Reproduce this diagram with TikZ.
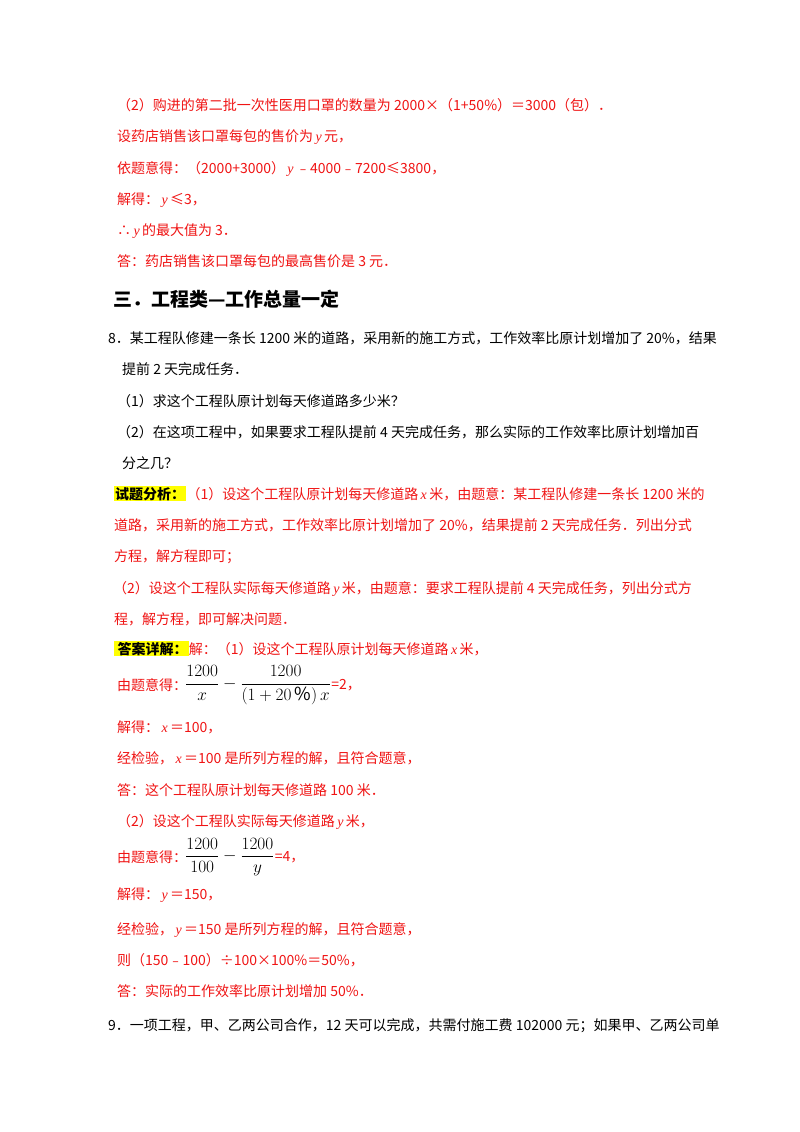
\documentclass[tikz,border=0pt]{standalone}
\usepackage{fontspec}
\setmainfont{Noto Sans CJK SC}
\newfontfamily\lat{Liberation Serif}
\newcommand\vv[1]{\,{\lat\itshape #1}\,}
\definecolor{rd}{RGB}{240,20,20}
\definecolor{hl}{RGB}{255,255,0}
\begin{document}
\begin{tikzpicture}[x=1pt,y=-1pt,
  ln/.style={anchor=base west,inner sep=0pt,font=\fontsize{14}{16}\selectfont},
  red/.style={ln,text=rd},
  frac/.style={anchor=west,inner sep=0pt,font=\fontsize{18}{20}\selectfont},
  tag/.style={anchor=base west,inner sep=1pt,fill=hl,font=\fontsize{14}{16}\selectfont\bfseries}]
\useasboundingbox (0,0) rectangle (800,1132);
\fill[white] (0,0) rectangle (800,1132);
\node[red] (a1) at (117,110) {（2）购进的第二批一次性医用口罩的数量为 2000×（1+50\%）＝3000（包）．};
\node[red] (a2) at (117,141) {设药店销售该口罩每包的售价为\vv{y}元，};
\node[red] (a3) at (117,173) {依题意得：（2000+3000）\vv{y}﹣4000﹣7200≤3800，};
\node[red] (a4) at (117,204) {解得：\vv{y}≤3，};
\node[red] (a5) at (117,235) {∴\vv{y}的最大值为 3．};
\node[red] (a6) at (117,266) {答：药店销售该口罩每包的最高售价是 3 元．};
\node[ln,font=\fontsize{19}{22}\selectfont\bfseries] (h) at (113,306) {三．工程类—工作总量一定};
\node[ln] (b1) at (108,343) {8．某工程队修建一条长 1200 米的道路，采用新的施工方式，工作效率比原计划增加了 20\%，结果};
\node[ln] (b2) at (122,374) {提前 2 天完成任务．};
\node[ln] (b3) at (117,406) {（1）求这个工程队原计划每天修道路多少米？};
\node[ln] (b4) at (117,437) {（2）在这项工程中，如果要求工程队提前 4 天完成任务，那么实际的工作效率比原计划增加百};
\node[ln] (b5) at (122,468) {分之几？};
\node[tag] (t1) at (114,499) {试题分析：};
\node[red,anchor=base west] (c1) at (t1.base east) {（1）设这个工程队原计划每天修道路\vv{x}米，由题意：某工程队修建一条长 1200 米的};
\node[red] (c2) at (114,530) {道路，采用新的施工方式，工作效率比原计划增加了 20\%，结果提前 2 天完成任务．列出分式};
\node[red] (c3) at (114,561) {方程，解方程即可；};
\node[red] (c4) at (113,593) {（2）设这个工程队实际每天修道路\vv{y}米，由题意：要求工程队提前 4 天完成任务，列出分式方};
\node[red] (c5) at (114,624) {程，解方程，即可解决问题．};
\node[tag] (t2) at (114,654) {\,答案详解：};
\node[red,anchor=base west] (d1) at (t2.base east) {解：（1）设这个工程队原计划每天修道路\vv{x}米，};
\node[red] (d2) at (117,690) {由题意得：};
\node[frac] (f1) at (185,685) {$\displaystyle\frac{1200}{x}-\frac{1200}{\left(1+20\,\%\right)x}$};
\node[red,anchor=west] (f1e) at (f1.east) {=2，};
\node[red] (d3) at (117,732) {解得：\vv{x}＝100，};
\node[red] (d4) at (117,763) {经检验，\vv{x}＝100 是所列方程的解，且符合题意，};
\node[red] (d5) at (117,795) {答：这个工程队原计划每天修道路 100 米．};
\node[red] (d6) at (117,826) {（2）设这个工程队实际每天修道路\vv{y}米，};
\node[red] (d7) at (117,862) {由题意得：};
\node[frac] (f2) at (185,857) {$\displaystyle\frac{1200}{100}-\frac{1200}{y}$};
\node[red,anchor=west] (f2e) at (f2.east) {=4，};
\node[red] (d8) at (117,899) {解得：\vv{y}＝150，};
\node[red] (d9) at (117,934) {经检验，\vv{y}＝150 是所列方程的解，且符合题意，};
\node[red] (d10) at (117,965) {则（150﹣100）÷100×100\%＝50\%，};
\node[red] (d11) at (117,996) {答：实际的工作效率比原计划增加 50\%．};
\node[ln] (e1) at (108,1030) {9．一项工程，甲、乙两公司合作，12 天可以完成，共需付施工费 102000 元；如果甲、乙两公司单};
\end{tikzpicture}
\end{document}
